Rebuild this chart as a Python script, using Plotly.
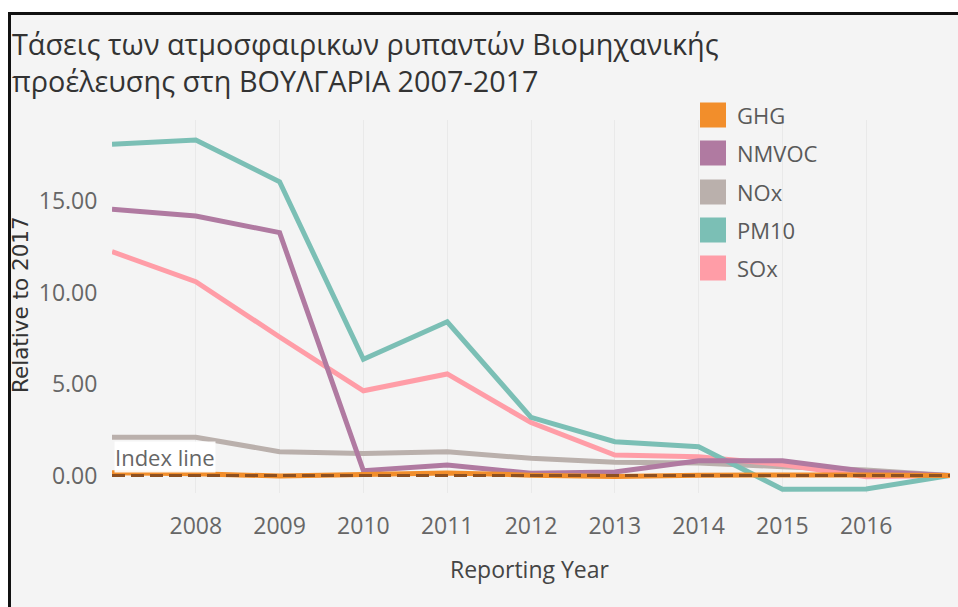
import plotly.graph_objects as go

# ---------------- data ----------------
years = [2007, 2008, 2009, 2010, 2011, 2012, 2013, 2014, 2015, 2016, 2017]
ghg   = [0.15, 0.10, -0.03, 0.05, 0.14, 0.02, -0.05, 0.02, 0.05, 0.03, 0.0]
nmvoc = [14.55, 14.18, 13.27, 0.26, 0.57, 0.12, 0.19, 0.80, 0.81, 0.22, 0.0]
nox   = [2.09, 2.09, 1.30, 1.20, 1.30, 0.94, 0.72, 0.68, 0.48, 0.30, 0.0]
pm10  = [18.10, 18.33, 16.05, 6.35, 8.40, 3.18, 1.85, 1.57, -0.75, -0.74, 0.0]
sox   = [12.23, 10.59, 7.57, 4.63, 5.55, 2.89, 1.12, 1.03, 0.60, -0.07, 0.0]

series_names = ["GHG", "NMVOC", "NOx", "PM10", "SOx"]
series_colors = {"GHG": "#F28E2B", "NMVOC": "#B07AA1", "NOx": "#BAB0AC",
                 "PM10": "#7BBFB5", "SOx": "#FF9DA7"}
series_values = {"GHG": ghg, "NMVOC": nmvoc, "NOx": nox, "PM10": pm10, "SOx": sox}

x_tick_vals = [2008, 2009, 2010, 2011, 2012, 2013, 2014, 2015, 2016]
y_tick_vals = [0, 5, 10, 15]
index_value = 0

title_line1 = "Τάσεις των ατμοσφαιρικων ρυπαντών Βιομηχανικής"
title_line2 = "προέλευσης στη ΒΟΥΛΓΑΡΙΑ 2007-2017"

# ---------------- layout geometry ----------------
W, H = 958, 607
OFF = 0   # body margin removed via post_script
L, R, T, B = 112 - OFF, 950 - OFF, 120 - OFF, 493 - OFF   # plot area (figure px)


def px2x(px):
    """window pixel x -> paper x"""
    return (px - OFF - L) / (R - L)


def py2y(py):
    """window pixel y -> paper y"""
    return (B - (py - OFF)) / (B - T)


fig = go.Figure()

draw_order = ["NOx", "SOx", "PM10", "NMVOC", "GHG"]
for name in draw_order:
    fig.add_trace(go.Scatter(
        x=years, y=series_values[name], mode="lines", name=name,
        line=dict(color=series_colors[name], width=5),
        showlegend=False, hoverinfo="x+y+name",
    ))

shapes = []
# light background panel
shapes.append(dict(type="rect", xref="paper", yref="paper",
                   x0=px2x(9.5), x1=px2x(W + 30), y0=py2y(13.5), y1=py2y(H + 30),
                   line=dict(width=0), fillcolor="#F4F4F4", layer="below"))
# frame: top and left borders only
shapes.append(dict(type="line", xref="paper", yref="paper",
                   x0=px2x(8), x1=px2x(W + 30), y0=py2y(13.5), y1=py2y(13.5),
                   line=dict(color="#111111", width=3), layer="below"))
shapes.append(dict(type="line", xref="paper", yref="paper",
                   x0=px2x(9.5), x1=px2x(9.5), y0=py2y(12), y1=py2y(H + 30),
                   line=dict(color="#111111", width=3), layer="below"))
# index line (dashed)
shapes.append(dict(type="line", xref="paper", yref="y", x0=0, x1=1,
                   y0=index_value, y1=index_value,
                   line=dict(color="#8E5020", width=3, dash="13px,6px"),
                   layer="above"))

annotations = []
# custom legend
legend_rows = [115, 153, 192, 230, 268]
for name, cy in zip(series_names, legend_rows):
    shapes.append(dict(type="rect", xref="paper", yref="paper",
                       x0=px2x(700), x1=px2x(726), y0=py2y(cy - 12.5), y1=py2y(cy + 12.5),
                       line=dict(width=0), fillcolor=series_colors[name], layer="above"))
    annotations.append(dict(xref="paper", yref="paper", x=px2x(735), y=py2y(cy),
                            xanchor="left", yanchor="middle", showarrow=False,
                            text=name, font=dict(family="Open Sans", size=22, color="#5A5A5A")))

# title (two lines)
annotations.append(dict(xref="paper", yref="paper", x=px2x(10), y=py2y(62),
                        xanchor="left", yanchor="middle", align="left", showarrow=False,
                        text=title_line1 + "<br>" + title_line2,
                        font=dict(family="Open Sans", size=28.8, color="#333333")))

# axis titles
annotations.append(dict(xref="paper", yref="paper", x=px2x(530), y=py2y(569),
                        xanchor="center", yanchor="middle", showarrow=False,
                        text="Reporting Year", font=dict(family="Open Sans", size=23, color="#444444")))
annotations.append(dict(xref="paper", yref="paper", x=px2x(20), y=py2y(305),
                        xanchor="center", yanchor="middle", showarrow=False, textangle=-90,
                        text="Relative to 2017", font=dict(family="DejaVu Sans", size=21.5, color="#333333")))

# index line label
annotations.append(dict(xref="paper", yref="paper", x=px2x(114), y=py2y(457),
                        xanchor="left", yanchor="middle", showarrow=False,
                        text="Index line", bgcolor="rgba(255,255,255,0.92)",
                        borderpad=0,
                        font=dict(family="Open Sans", size=22, color="#666666")))

y_min = (B + OFF - 475.5) / -18.3
y_max = (475.5 - (T + OFF)) / 18.3

fig.update_layout(
    width=W, height=H,
    margin=dict(l=L, r=W - R, t=T, b=H - B, pad=0),
    paper_bgcolor="#FFFFFF",
    plot_bgcolor="rgba(0,0,0,0)",
    showlegend=False,
    shapes=shapes,
    annotations=annotations,
    xaxis=dict(range=[2007, 2017], tickvals=x_tick_vals, showgrid=True,
               gridcolor="#E9E9E9", gridwidth=1, zeroline=False, showline=False,
               ticks="outside", ticklen=12, tickcolor="rgba(0,0,0,0)",
               tickfont=dict(family="Open Sans", size=23, color="#666666")),
    yaxis=dict(range=[y_min, y_max], tickvals=y_tick_vals, tickformat=".2f",
               showgrid=False, zeroline=False, showline=False,
               ticks="outside", ticklen=9, tickcolor="rgba(0,0,0,0)",
               tickfont=dict(family="Open Sans", size=23, color="#666666")),
)

fig.write_html(
    "out.html",
    config={"displayModeBar": False},
    post_script="document.body.style.margin='0';document.body.style.overflow='hidden';",
)
